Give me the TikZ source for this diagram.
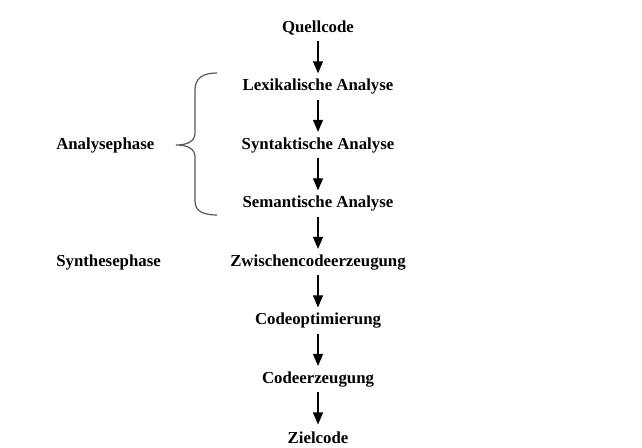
\documentclass[tikz,border=0pt]{standalone}
\usepackage{fontspec}
\setmainfont{Liberation Serif}
\usetikzlibrary{arrows.meta, positioning}
\tikzstyle{stage} = [rectangle, font=\bfseries\fontsize{12.6}{15}\selectfont, minimum height=19.5pt, inner sep=0pt]
\tikzstyle{phase} = [stage, anchor=west]
\tikzstyle{line} = [draw, thick, -{Triangle[width=7.5pt, length=9pt]}]

\begin{document}
\begin{tikzpicture}[x=0.75pt, y=-0.75pt]
	\useasboundingbox [fill=white] (0,0) rectangle (642,447);
	\node [stage] (quell) at (318,28) {Quellcode};
	\node [stage, below=24pt of quell] (lex) {Lexikalische Analyse};
	\node [stage, below=24pt of lex] (syn) {Syntaktische Analyse};
	\node [stage, below=24pt of syn] (sem) {Semantische Analyse};
	\node [stage, below=24pt of sem] (zwi) {Zwischencodeerzeugung};
	\node [stage, below=24pt of zwi] (opt) {Codeoptimierung};
	\node [stage, below=24pt of opt] (erz) {Codeerzeugung};
	\node [stage, below=24pt of erz] (ziel) {Zielcode};
	
	\node [phase] (analyse) at (56,0 |- syn) {Analysephase};
	\node [phase] (synthese) at (56,0 |- zwi) {Synthesephase};
	
	\path [line] (quell) -- (lex);
	\path [line] (lex) -- (syn);
	\path [line] (syn) -- (sem);
	\path [line] (sem) -- (zwi);
	\path [line] (zwi) -- (opt);
	\path [line] (opt) -- (erz);
	\path [line] (erz) -- (ziel);
	
	% Klammer
	\draw [gray!70!black, line width=0.9pt] (217,73) .. controls (203,73) and (195,78) .. (195,90)
		-- (195,133) .. controls (195,141) and (188,145) .. (176,145)
		.. controls (188,145) and (195,149) .. (195,157)
		-- (195,201) .. controls (195,211) and (203,215) .. (217,215);
\end{tikzpicture}
\end{document}
